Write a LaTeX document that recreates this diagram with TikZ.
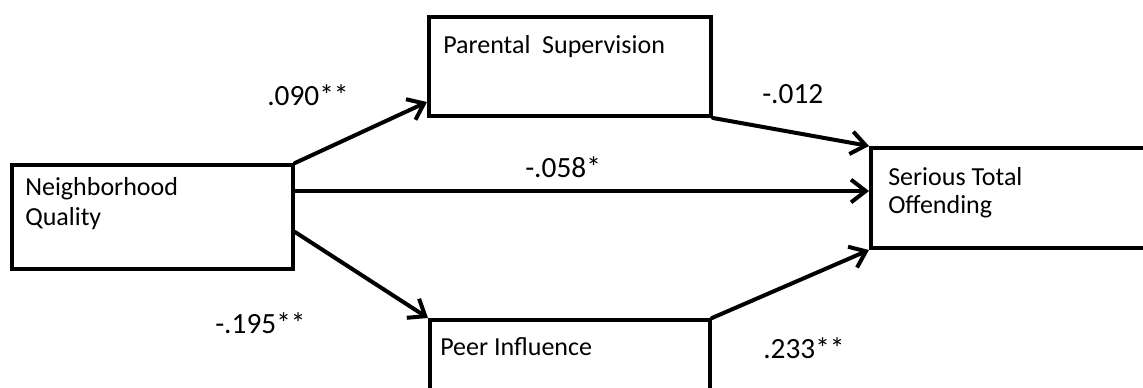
\documentclass[tikz,border=0pt]{standalone}
\usepackage{fontspec}
\setmainfont{Carlito}
\usetikzlibrary{arrows.meta,calc}
\begin{document}
\begin{tikzpicture}[x=0.75pt,y=-0.75pt,
  box/.style={draw=black, line width=3pt, fill=white, inner sep=0pt},
  boxtext/.style={anchor=base west, inner sep=0pt, align=left, font=\fontsize{19.5}{21.5}\selectfont},
  coef/.style={anchor=base west, inner sep=0pt, font=\fontsize{22}{26}\selectfont},
  arr/.style={line width=3pt, line cap=round, -{Straight Barb[length=11pt,width=17pt,line width=3pt]}}]
\useasboundingbox (0,0) rectangle (1143,387);
\clip (0,0) rectangle (1143,387);
% boxes
\node[box, minimum width=210.75pt, minimum height=78pt] (nq) at (152.5,217) {};
\node[box, minimum width=211.5pt, minimum height=74.25pt] (ps) at (570,66.5) {};
\node[box, minimum width=210pt, minimum height=75pt] (pi) at (570,370) {};
\node[box, minimum width=231.75pt, minimum height=75pt] (sto) at (1025.5,198) {};
% box texts
\node[boxtext] (nqt1) at (25,195) {Neighborhood};
\node[boxtext] (nqt2) at (25,225) {Quality};
\node[boxtext] (pst) at (443,53) {Parental\ \ Supervision};
\node[boxtext] (pit) at (440,355) {Peer Influence};
\node[boxtext] (stot1) at (888,185) {Serious Total};
\node[boxtext] (stot2) at (888,213) {Offending};
% connector end points
\coordinate (psin) at ($(ps.south west)+(0,-16)$);
\coordinate (nqmid) at ($(nq.north east)+(0,28)$);
\coordinate (nqlow) at ($(nq.east)+(0,15)$);
% connectors
\draw[arr] (nq.north east) -- (psin);
\draw[arr] (ps.south east) -- (sto.north west);
\draw[arr] (nqmid) -- (sto.west |- nqmid);
\draw[arr] (nqlow) -- (pi.north west);
\draw[arr] (pi.north east) -- (sto.south west);
% coefficients
\node[coef] (c1) at (267,105) {.090**};
\node[coef] (c2) at (762,103) {-.012};
\node[coef] (c3) at (525,177) {-.058*};
\node[coef] (c4) at (215,333) {-.195**};
\node[coef] (c5) at (763,358) {.233**};
\end{tikzpicture}
\end{document}
